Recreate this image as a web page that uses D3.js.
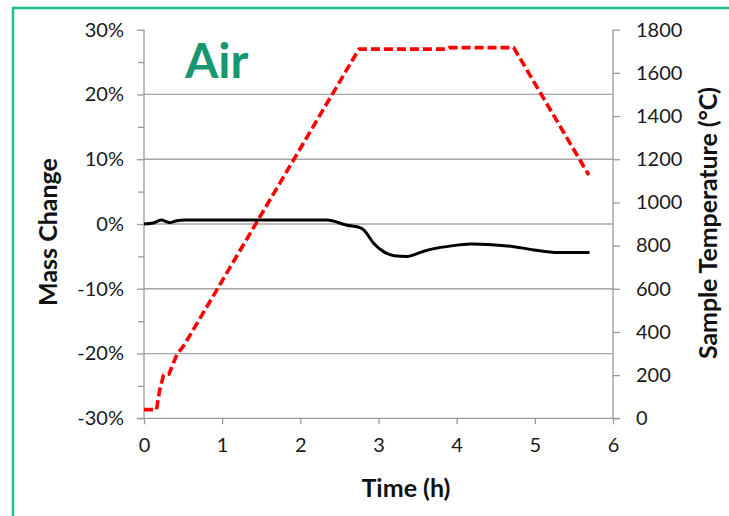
<!DOCTYPE html>
<html>
<head>
<meta charset="utf-8">
<script src="https://cdn.jsdelivr.net/npm/d3@7"></script>
<style>
	body { margin: 0; background: #fff; }
	text { font-family: Lato, "Open Sans", sans-serif; }
</style>
</head>
<body>
<svg id="chart_svg"></svg>
<script>
const w = 729
const h = 516
const margin = { left: 144, top: 29.7, right: 116, bottom: 97.7 }

// temperature profile (h, °C)
const temp_time = [0, 0.16, 0.2, 0.25, 0.32, 0.42, 0.5, 0.63, 2.75, 3.86, 3.9, 4.73, 5.69]
const temp_value = [40, 40, 130, 200, 205, 295, 332, 410, 1710, 1710, 1717, 1717, 1127]

// mass change (h, %)
const mass_time = [0, 0.1, 0.22, 0.33, 0.42, 0.53, 0.7, 2.34, 2.6, 2.77, 2.81, 2.94, 3.07, 3.2, 3.37, 3.58, 3.71, 3.92, 4.18, 4.45, 4.73, 4.99, 5.29, 5.7]
const mass_value = [0, 0.1, 0.6, 0.2, 0.5, 0.6, 0.6, 0.6, -0.2, -0.6, -0.9, -3.0, -4.3, -4.9, -5.0, -4.2, -3.8, -3.4, -3.1, -3.2, -3.5, -4.0, -4.4, -4.4]

const x_ticks = [0, 1, 2, 3, 4, 5, 6]
const left_ticks = [-30, -20, -10, 0, 10, 20, 30]
const left_minor = [-25, -15, -5, 5, 15, 25]
const right_ticks = [0, 200, 400, 600, 800, 1000, 1200, 1400, 1600, 1800]

const title = 'Air'
const x_title = 'Time (h)'
const left_title = 'Mass Change'
const right_title = 'Sample Temperature (°C)'

const innerWidth = w - margin.left - margin.right
const innerHeight = h - margin.top - margin.bottom

var SVG = d3.select('#chart_svg')
	.attr('width', w)
	.attr('height', h)

// green frame round the figure (runs off right / bottom)
SVG.append('rect')
	.attr('x', 13).attr('y', 8)
	.attr('width', 760).attr('height', 560)
	.attr('fill', 'none')
	.attr('stroke', '#1cc08f')
	.attr('stroke-width', 2.5)

let xScale = d3.scaleLinear().domain([0, 6]).range([0, innerWidth])
let yLeft = d3.scaleLinear().domain([-30, 30]).range([innerHeight, 0])
let yRight = d3.scaleLinear().domain([0, 1800]).range([innerHeight, 0])

let inner = SVG.append('g')
	.attr('transform', `translate(${margin.left}, ${margin.top})`)

// gridlines (no line on top edge)
inner.append('g').selectAll('line')
	.data(left_ticks.filter(d => d > -30 && d < 30))
	.enter().append('line')
	.attr('x1', 0).attr('x2', innerWidth)
	.attr('y1', d => yLeft(d)).attr('y2', d => yLeft(d))
	.attr('stroke', '#a6a6a6')
	.attr('stroke-width', 1.3)

const axis_style = g => {
	g.attr('font-family', null)
	g.select('.domain').attr('stroke', '#9a9a9a').attr('stroke-width', 1.3)
	g.selectAll('.tick line').attr('stroke', '#9a9a9a').attr('stroke-width', 1.3)
	g.selectAll('text').attr('font-size', 20).attr('fill', '#1a1a1a')
}

// left axis
inner.append('g')
	.call(d3.axisLeft(yLeft).tickValues(left_ticks).tickFormat(d => d + '%').tickSize(7).tickSizeOuter(0).tickPadding(13))
	.call(axis_style)
	.call(g => g.select('.domain').remove())
inner.append('g')
	.call(d3.axisLeft(yLeft).tickValues(left_minor).tickFormat('').tickSize(6).tickSizeOuter(0))
	.call(axis_style)
	.call(g => g.select('.domain').attr('d', `M0,0V${innerHeight}`))

// right axis
inner.append('g')
	.attr('transform', `translate(${innerWidth}, 0)`)
	.call(d3.axisRight(yRight).tickValues(right_ticks).tickFormat(d3.format('d')).tickSize(7).tickSizeOuter(0).tickPadding(16))
	.call(axis_style)
	.call(g => g.select('.domain').attr('d', `M0,0V${innerHeight}`))

// bottom axis
inner.append('g')
	.attr('transform', `translate(0, ${innerHeight})`)
	.call(d3.axisBottom(xScale).tickValues(x_ticks).tickFormat(d3.format('d')).tickSize(6).tickSizeOuter(0).tickPadding(14))
	.call(axis_style)
	.call(g => g.select('.domain').attr('d', `M-7,0H${innerWidth + 7}`))

// temperature, dashed red
let temp_data = temp_time.map((t, i) => ({ t, v: temp_value[i] }))
let temp_line = d3.line()
	.x(d => xScale(d.t))
	.y(d => yRight(d.v))

inner.append('path')
	.attr('d', temp_line(temp_data))
	.attr('fill', 'none')
	.attr('stroke', '#ff0000')
	.attr('stroke-width', 3.6)
	.attr('stroke-dasharray', '9, 4')
	.attr('stroke-linejoin', 'round')

// mass change, solid black
let mass_data = mass_time.map((t, i) => ({ t, v: mass_value[i] }))
let mass_line = d3.line()
	.x(d => xScale(d.t))
	.y(d => yLeft(d.v))
	.curve(d3.curveMonotoneX)

inner.append('path')
	.attr('d', mass_line(mass_data))
	.attr('fill', 'none')
	.attr('stroke', '#000')
	.attr('stroke-width', 3)
	.attr('stroke-linejoin', 'round')

// titles
SVG.append('text')
	.attr('x', 185).attr('y', 78)
	.attr('font-family', '"Liberation Sans", Arial, sans-serif')
	.attr('font-weight', 'bold')
	.attr('font-size', 48)
	.attr('fill', '#17976f')
	.text(title)

SVG.append('text')
	.attr('x', 406)
	.attr('y', 497)
	.attr('text-anchor', 'middle')
	.attr('font-weight', 'bold')
	.attr('font-size', 25)
	.attr('fill', '#111')
	.text(x_title)

SVG.append('text')
	.attr('transform', `translate(57, 232) rotate(-90)`)
	.attr('text-anchor', 'middle')
	.attr('font-weight', 'bold')
	.attr('font-size', 25)
	.attr('fill', '#111')
	.text(left_title)

SVG.append('text')
	.attr('transform', `translate(717, 223) rotate(-90)`)
	.attr('text-anchor', 'middle')
	.attr('font-weight', 'bold')
	.attr('font-size', 25)
	.attr('textLength', 272)
	.attr('lengthAdjust', 'spacing')
	.attr('fill', '#111')
	.text(right_title)
</script>
</body>
</html>
